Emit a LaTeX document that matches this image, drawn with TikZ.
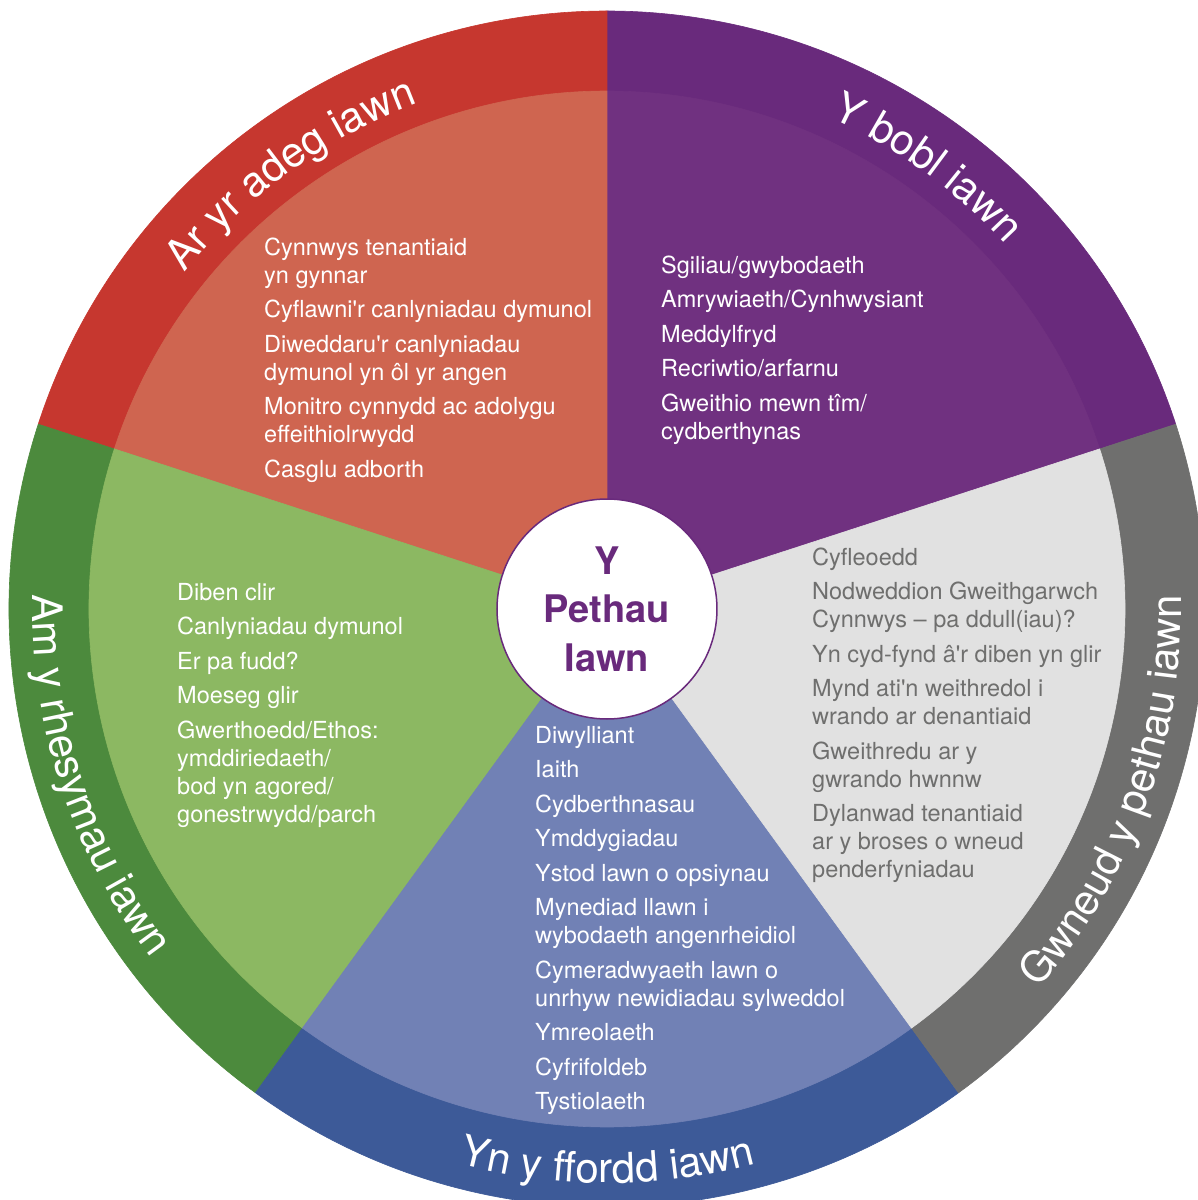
\documentclass[tikz,border=0pt]{standalone}
\usepackage{fontspec}
\setmainfont{TeX Gyre Heros}
\usetikzlibrary{decorations.text}

\definecolor{cochcylch}{HTML}{C6372F}
\definecolor{cochllenwi}{HTML}{CF6550}
\definecolor{porfforcylch}{HTML}{692A7C}
\definecolor{porfforllenwi}{HTML}{703180}
\definecolor{llwydcylch}{HTML}{6F6F6E}
\definecolor{llwydllenwi}{HTML}{E1E1E1}
\definecolor{glascylch}{HTML}{3D5A98}
\definecolor{glasllenwi}{HTML}{7181B5}
\definecolor{gwyrddcylch}{HTML}{4C8A3D}
\definecolor{gwyrddllenwi}{HTML}{8CB862}

\newcommand\listfont{\fontsize{23.5}{28}\selectfont}
\newcommand\ringfont{\fontsize{42}{42}\selectfont}
\newcommand\centrefont{\fontsize{38}{48.5}\selectfont\bfseries}

\begin{document}
\begin{tikzpicture}[x=1pt, y=1pt,
    lista/.style={anchor=north west, inner sep=0pt, align=left, font=\listfont, text=white},
    labelring/.style={decorate, decoration={text along path, text align=center,
        text color=white, text={|\ringfont|#1}}}]
    \useasboundingbox (-607,-591) rectangle (591,609);
    \clip (-607,-591) rectangle (591,609);

    % Cylch allanol
    \filldraw[fill=porfforcylch, draw=porfforcylch, line width=0.6pt] (0,0) -- (18:598) arc (18:90:598) -- cycle;
    \filldraw[fill=cochcylch, draw=cochcylch, line width=0.6pt] (0,0) -- (90:598) arc (90:162:598) -- cycle;
    \filldraw[fill=gwyrddcylch, draw=gwyrddcylch, line width=0.6pt] (0,0) -- (162:598) arc (162:234:598) -- cycle;
    \filldraw[fill=glascylch, draw=glascylch, line width=0.6pt] (0,0) -- (234:598) arc (234:306:598) -- cycle;
    \filldraw[fill=llwydcylch, draw=llwydcylch, line width=0.6pt] (0,0) -- (306:598) arc (306:378:598) -- cycle;

    % Sectorau mewnol
    \filldraw[fill=porfforllenwi, draw=porfforllenwi, line width=0.6pt] (0,0) -- (18:518) arc (18:90:518) -- cycle;
    \filldraw[fill=cochllenwi, draw=cochllenwi, line width=0.6pt] (0,0) -- (90:518) arc (90:162:518) -- cycle;
    \filldraw[fill=gwyrddllenwi, draw=gwyrddllenwi, line width=0.6pt] (0,0) -- (162:518) arc (162:234:518) -- cycle;
    \filldraw[fill=glasllenwi, draw=glasllenwi, line width=0.6pt] (0,0) -- (234:518) arc (234:306:518) -- cycle;
    \filldraw[fill=llwydllenwi, draw=llwydllenwi, line width=0.6pt] (0,0) -- (306:518) arc (306:378:518) -- cycle;

    % Teitlau ar y cylch
    \path[labelring={Ar yr adeg iawn}] (162:540) arc (162:90:540);
    \path[labelring={Y bobl iawn}] (90:540) arc (90:18:540);
    \path[labelring={Gwneud y pethau iawn}] (304:574) arc (304:376:574);
    \path[labelring={Yn y ffordd iawn}] (234:574) arc (234:306:574);
    \path[labelring={Am y rhesymau iawn}] (162:574) arc (162:234:574);

    % Rhestrau
    \node[lista] (coch) at (-343,373.6) {\strut Cynnwys tenantiaid\\yn gynnar\\[6.5pt]
        Cyflawni\textquotesingle{}r canlyniadau dymunol\\[6.5pt]
        Diweddaru\textquotesingle{}r canlyniadau\\dymunol yn ôl yr angen\\[6.5pt]
        Monitro cynnydd ac adolygu\\effeithiolrwydd\\[6.5pt]
        Casglu adborth};
    \node[lista] (porffor) at (54,355.6) {\strut Sgiliau/gwybodaeth\\[6.5pt]
        Amrywiaeth/Cynhwysiant\\[6.5pt]
        Meddylfryd\\[6.5pt]
        Recriwtio/arfarnu\\[6.5pt]
        Gweithio mewn tîm/\\cydberthynas};
    \node[lista, text=llwydcylch] (llwyd) at (205,63.6) {\strut Cyfleoedd\\[6.5pt]
        Nodweddion Gweithgarwch\\Cynnwys – pa ddull(iau)?\\[6.5pt]
        Yn cyd-fynd â\textquotesingle{}r diben yn glir\\[6.5pt]
        Mynd ati\textquotesingle{}n weithredol i\\wrando ar denantiaid\\[6.5pt]
        Gweithredu ar y\\gwrando hwnnw\\[6.5pt]
        Dylanwad tenantiaid\\ar y broses o wneud\\penderfyniadau};
    \node[lista] (glas) at (-72,-114.4) {\strut Diwylliant\\[6.5pt]
        Iaith\\[6.5pt]
        Cydberthnasau\\[6.5pt]
        Ymddygiadau\\[6.5pt]
        Ystod lawn o opsiynau\\[6.5pt]
        Mynediad llawn i\\wybodaeth angenrheidiol\\[6.5pt]
        Cymeradwyaeth lawn o\\unrhyw newidiadau sylweddol\\[6.5pt]
        Ymreolaeth\\[6.5pt]
        Cyfrifoldeb\\[6.5pt]
        Tystiolaeth};
    \node[lista] (gwyrdd) at (-430,28.6) {\strut Diben clir\\[6.5pt]
        Canlyniadau dymunol\\[6.5pt]
        Er pa fudd?\\[6.5pt]
        Moeseg glir\\[6.5pt]
        Gwerthoedd/Ethos:\\ymddiriedaeth/\\bod yn agored/\\gonestrwydd/parch};

    % Canol
    \node[circle, draw=porfforcylch, line width=1.5pt, fill=white, minimum size=220pt, inner sep=0pt,
        align=center, font=\centrefont, text=porfforcylch] (canol) at (0,0) {Y\\Pethau\\Iawn};
\end{tikzpicture}
\end{document}
